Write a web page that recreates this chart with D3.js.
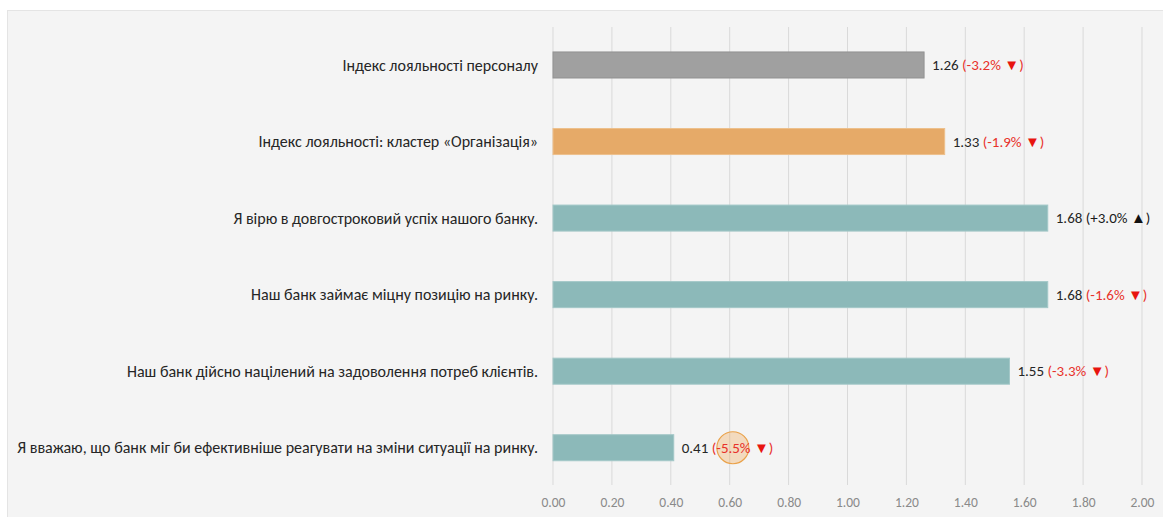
<!DOCTYPE html>
<html><head><meta charset="utf-8">
<script src="https://cdn.jsdelivr.net/npm/d3@7"></script>
<style>html,body{margin:0;padding:0;background:#fff;}svg{display:block;}</style>
</head><body>
<svg id="c" width="1163" height="517"></svg>
<script>
const categories = [
  "Індекс лояльності персоналу",
  "Індекс лояльності: кластер «Організація»",
  "Я вірю в довгостроковий успіх нашого банку.",
  "Наш банк займає міцну позицію на ринку.",
  "Наш банк дійсно націлений на задоволення потреб клієнтів.",
  "Я вважаю, що банк міг би ефективніше реагувати на зміни ситуації на ринку."
];
const values = [1.26, 1.33, 1.68, 1.68, 1.55, 0.41];
const changes = ["-3.2%", "-1.9%", "+3.0%", "-1.6%", "-3.3%", "-5.5%"];
const barGroups = ["index", "cluster", "item", "item", "item", "item"];
const ticks = [0, 0.2, 0.4, 0.6, 0.8, 1.0, 1.2, 1.4, 1.6, 1.8, 2.0];
const highlighted = [false, false, false, false, false, true];

const colors = {index: "#a0a0a0", cluster: "#e6aa68", item: "#8cb9b9"};
const strokes = {index: "#929292", cluster: "#edc08c", item: "#a3c8c8"};
const font = "Carlito, 'Open Sans', 'Noto Sans', sans-serif";

const svg = d3.select("#c");
svg.append("rect").attr("x", 7.5).attr("y", 10.5).attr("width", 1170).attr("height", 520)
  .attr("fill", "#f4f4f4").attr("stroke", "#e4e4e4");

const x = d3.scaleLinear().domain([0, 2]).range([553, 1142]);
const y = d3.scaleBand().domain(categories).range([26.7, 486]).paddingInner(0.66).paddingOuter(0.33);

// gridlines
svg.append("g").selectAll("line").data(ticks).join("line")
  .attr("x1", d => x(d)).attr("x2", d => x(d)).attr("y1", 27).attr("y2", 485)
  .attr("stroke", "#d9d9d9").attr("stroke-width", 1);

// x axis
const xAxis = d3.axisBottom(x).tickValues(ticks).tickFormat(d3.format(".2f")).tickSize(0).tickPadding(0);
const gx = svg.append("g").attr("transform", "translate(0,497)").call(xAxis);
gx.select(".domain").remove();
gx.selectAll("text").attr("font-family", font).attr("font-size", 13.5).attr("fill", "#8a8a8a").attr("dy", "0.71em");

// bars
svg.append("g").selectAll("rect").data(categories).join("rect")
  .attr("x", x(0)).attr("y", d => y(d))
  .attr("width", (d, i) => x(values[i]) - x(0)).attr("height", y.bandwidth())
  .attr("fill", (d, i) => colors[barGroups[i]])
  .attr("stroke", (d, i) => strokes[barGroups[i]]).attr("stroke-width", 1);

// category labels
svg.append("g").selectAll("text").data(categories).join("text")
  .attr("x", 538).attr("y", d => y(d) + y.bandwidth() / 2).attr("dy", "0.35em")
  .attr("text-anchor", "end").attr("font-family", font).attr("font-size", 16).attr("fill", "#262626")
  .text(d => d);

const circleLayer = svg.append("g");

// value labels
const vl = svg.append("g").selectAll("text").data(categories).join("text")
  .attr("x", (d, i) => x(values[i]) + 8).attr("y", d => y(d) + y.bandwidth() / 2).attr("dy", "0.35em")
  .attr("font-family", font).attr("font-size", 15);
vl.each(function(d, i) {
  const t = d3.select(this);
  const up = changes[i].startsWith("+");
  const col = up ? "#1a1a1a" : "#e8312a";
  t.append("tspan").attr("fill", "#262626").text(values[i].toFixed(2) + " ");
  t.append("tspan").attr("fill", col).text("(" + changes[i] + " ");
  t.append("tspan").attr("fill", up ? "#111" : "#e8140f").text(up ? "▲" : "▼");
  t.append("tspan").attr("fill", col).text(")");
});

// highlight circle over the change label
vl.each(function(d, i) {
  if (!highlighted[i]) return;
  const tsp = d3.select(this).selectAll("tspan").nodes()[1];
  const b = tsp.getBBox();
  const cx = b.x + b.width / 2;
  circleLayer.append("circle")
    .attr("cx", cx).attr("cy", y(d) + y.bandwidth() / 2).attr("r", 16)
    .attr("fill", "rgba(240,170,90,0.35)").attr("stroke", "#eaa24a").attr("stroke-width", 1.2);
});
</script>
</body></html>
